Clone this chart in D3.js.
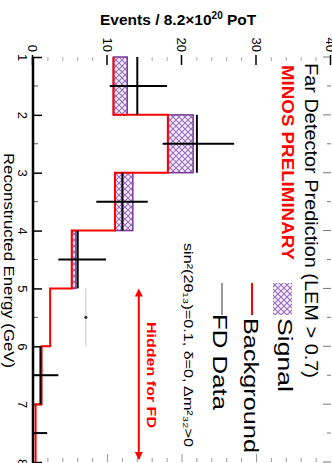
<!DOCTYPE html>
<html><head><meta charset="utf-8">
<script src="https://cdn.jsdelivr.net/npm/d3@7"></script>
<style>html,body{margin:0;padding:0;background:#fff;}svg{display:block;font-family:"Liberation Sans",Arial,sans-serif;}</style>
</head><body>
<script>
// ---- data ----
const binEdges = [1, 2, 3, 4, 5, 6, 7, 8];              // reconstructed energy (GeV)
const background = [10.8, 18.1, 11.0, 5.2, 2.3, 1.15, 0.35];
const signal = [1.85, 3.4, 2.4, 0.55, 0, 0, 0];
const dataBinLow = [1, 2, 3, 4, 6, 7];
const dataValues = [14, 22, 12, 6, 1, 0];
const dataErrLow = [10.3, 17.4, 8.5, 3.4, 0, 0];
const dataErrHigh = [18.0, 27.0, 15.4, 9.8, 3.4, 1.9];
const hiddenBinLow = [5];
const hiddenValues = [7.1];
const energyTicks = [1, 2, 3, 4, 5, 6, 7, 8];
const eventTicks = [0, 10, 20, 30, 40];

const W = 332, H = 463;
const svg = d3.select("body").append("svg").attr("width", W).attr("height", H);
svg.append("rect").attr("width", W).attr("height", H).attr("fill", "#fff");

const defs = svg.append("defs");
const pat = defs.append("pattern").attr("id", "hatch").attr("patternUnits", "userSpaceOnUse")
  .attr("width", 6).attr("height", 6);
pat.append("rect").attr("width", 6).attr("height", 6).attr("fill", "#f4eef8");
pat.append("path").attr("d", "M0,0L6,6M6,0L0,6").attr("stroke", "#9b6cc0").attr("stroke-width", 1.1);

// rotated chart: group x -> page y, group y -> page (332 - x)
const g = svg.append("g").attr("transform", `translate(${W},0) rotate(90)`);

const x = d3.scaleLinear().domain([1, 8]).range([57, 462]);
const y = d3.scaleLinear().domain([0, 40]).range([299, 1]);

// energy axis (original bottom)
const ax = g.append("g").attr("transform", "translate(0,299)")
  .call(d3.axisBottom(x).tickValues(energyTicks).tickFormat(d3.format("d")).tickSizeInner(-9).tickSizeOuter(0).tickPadding(6));
ax.select(".domain").remove();
ax.selectAll(".tick line").attr("stroke", "#000").attr("stroke-width", 1.5);
ax.selectAll("text").attr("font-size", 13).attr("fill", "#000");
const eMinor = d3.range(1.5, 8, 1);
g.append("g").selectAll("line").data(eMinor).join("line")
  .attr("x1", d => x(d)).attr("x2", d => x(d)).attr("y1", 299).attr("y2", 294)
  .attr("stroke", "#555").attr("stroke-width", 1);
// mirrored energy ticks on far side
g.append("g").selectAll("line").data(d3.range(1, 8.01, 0.5)).join("line")
  .attr("x1", d => x(d)).attr("x2", d => x(d)).attr("y1", 1).attr("y2", d => Number.isInteger(d) ? 9 : 5)
  .attr("stroke", "#777").attr("stroke-width", 1);
g.append("line").attr("x1", 57).attr("x2", 463).attr("y1", 299).attr("y2", 299)
  .attr("stroke", "#000").attr("stroke-width", 2.5);

// events axis (original left)
const ay = g.append("g").attr("transform", "translate(57,0)")
  .call(d3.axisLeft(y).tickValues(eventTicks).tickFormat(d3.format("d")).tickSizeInner(-8).tickSizeOuter(0).tickPadding(5));
ay.select(".domain").remove();
ay.selectAll(".tick line").attr("stroke", "#000").attr("stroke-width", 1.5).attr("x1", -2);
ay.selectAll("text").attr("font-size", 13).attr("fill", "#000");
const nMinor = d3.range(2, 40, 2).filter(d => d % 10 !== 0);
g.append("g").selectAll("line").data(nMinor).join("line")
  .attr("x1", 57).attr("x2", 61).attr("y1", d => y(d)).attr("y2", d => y(d))
  .attr("stroke", "#aaa").attr("stroke-width", 1);
g.append("g").selectAll("line").data(d3.range(2, 40, 2)).join("line")
  .attr("x1", 462).attr("x2", d => d % 10 === 0 ? 454 : 458).attr("y1", d => y(d)).attr("y2", d => y(d))
  .attr("stroke", "#999").attr("stroke-width", 1);

// signal stacked on background
const bins = background.map((b, i) => ({ lo: binEdges[i], hi: binEdges[i + 1], b, s: signal[i] }));
g.append("g").selectAll("rect").data(bins.filter(d => d.s > 0)).join("rect")
  .attr("x", d => x(d.lo)).attr("width", d => x(d.hi) - x(d.lo))
  .attr("y", d => y(d.b + d.s)).attr("height", d => y(d.b) - y(d.b + d.s))
  .attr("fill", "url(#hatch)").attr("stroke", "#7a3a9a").attr("stroke-width", 1.5);

// background step line
let p = d3.path();
bins.forEach((d, i) => {
  if (i === 0) p.moveTo(x(d.lo), y(d.b)); else p.lineTo(x(d.lo), y(d.b));
  p.lineTo(x(d.hi), y(d.b));
});
g.append("path").attr("d", p.toString()).attr("fill", "none").attr("stroke", "#ff0000").attr("stroke-width", 2);

// hidden (grey) point
hiddenBinLow.forEach((lo, i) => {
  const yy = y(hiddenValues[i]);
  g.append("line").attr("x1", x(lo)).attr("x2", x(lo + 1)).attr("y1", yy).attr("y2", yy).attr("stroke", "#c8c8c8").attr("stroke-width", 1);
  g.append("circle").attr("cx", x(lo + 0.5)).attr("cy", yy).attr("r", 1.6).attr("fill", "#333");
});

// data points
const dg = g.append("g");
dataBinLow.forEach((lo, i) => {
  const yy = y(dataValues[i]);
  dg.append("line").attr("x1", x(lo)).attr("x2", x(lo + 1)).attr("y1", yy).attr("y2", yy).attr("stroke", "#000").attr("stroke-width", 2);
  dg.append("line").attr("x1", x(lo + 0.5)).attr("x2", x(lo + 0.5)).attr("y1", y(dataErrLow[i])).attr("y2", y(dataErrHigh[i])).attr("stroke", "#000").attr("stroke-width", 2);
});

// hidden region arrow
const ay0 = y(14.2);
g.append("line").attr("x1", x(5) + 3).attr("x2", x(8) - 3).attr("y1", ay0).attr("y2", ay0).attr("stroke", "#ff0000").attr("stroke-width", 2);
g.append("path").attr("d", `M${x(5)},${ay0}l8,-4l0,8z M${x(8) - 2},${ay0}l-8,-4l0,8z`).attr("fill", "#ff0000");
g.append("text").attr("x", 322).attr("y", 185).attr("font-size", 13).attr("font-weight", "bold").attr("fill", "#ff0000")
  .attr("textLength", 106).attr("lengthAdjust", "spacingAndGlyphs").text("Hidden for FD");

// annotation
g.append("text").attr("x", 243).attr("y", 148).attr("font-size", 12).attr("fill", "#000")
  .attr("textLength", 204).attr("lengthAdjust", "spacingAndGlyphs").text("sin²(2θ₁₃)=0.1, δ=0, Δm²₃₂>0");

// legend
g.append("text").attr("x", 63).attr("y", 27).attr("font-size", 18).attr("fill", "#000")
  .attr("textLength", 315).attr("lengthAdjust", "spacingAndGlyphs").text("Far Detector Prediction (LEM > 0.7)");
g.append("text").attr("x", 65).attr("y", 50).attr("font-size", 16).attr("font-weight", "bold").attr("fill", "#ff0000")
  .attr("textLength", 195).attr("lengthAdjust", "spacingAndGlyphs").text("MINOS PRELIMINARY");
g.append("rect").attr("x", 283).attr("y", 40).attr("width", 32).attr("height", 19).attr("fill", "url(#hatch)");
g.append("text").attr("x", 318).attr("y", 54).attr("font-size", 20).attr("fill", "#000")
  .attr("textLength", 74).attr("lengthAdjust", "spacingAndGlyphs").text("Signal");
g.append("line").attr("x1", 283).attr("x2", 315).attr("y1", 80).attr("y2", 80).attr("stroke", "#ff0000").attr("stroke-width", 2);
g.append("text").attr("x", 318).attr("y", 88).attr("font-size", 20).attr("fill", "#000")
  .attr("textLength", 135).attr("lengthAdjust", "spacingAndGlyphs").text("Background");
g.append("line").attr("x1", 283).attr("x2", 315).attr("y1", 110).attr("y2", 110).attr("stroke", "#777").attr("stroke-width", 1.5);
g.append("text").attr("x", 314).attr("y", 119).attr("font-size", 20).attr("fill", "#000")
  .attr("textLength", 96).attr("lengthAdjust", "spacingAndGlyphs").text("FD Data");

// energy axis title
g.append("text").attr("x", 153).attr("y", 328).attr("font-size", 14).attr("fill", "#000")
  .attr("textLength", 215).attr("lengthAdjust", "spacingAndGlyphs").text("Reconstructed Energy (GeV)");

// events axis title (upright on page)
const t = svg.append("text").attr("x", 100).attr("y", 25).attr("font-size", 15.5).attr("font-weight", "bold").attr("fill", "#000");
t.append("tspan").text("Events / 8.2×10");
t.append("tspan").attr("dy", -6).attr("font-size", 10).text("20");
t.append("tspan").attr("dy", 6).text(" PoT");
</script>
</body></html>
